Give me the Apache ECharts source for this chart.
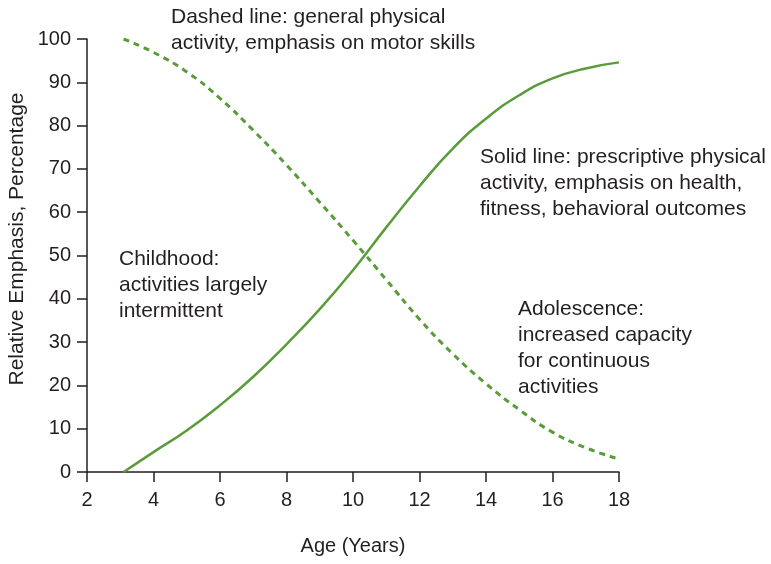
<!DOCTYPE html>
<html>
<head>
<meta charset="utf-8">
<script src="https://cdn.jsdelivr.net/npm/echarts@6/dist/echarts.min.js"></script>
<style>
  html, body { margin: 0; padding: 0; background: #fff; }
  #chart { width: 771px; height: 564px; }
</style>
</head>
<body>
<div id="chart"></div>
<script>
// ages
const ages = [3.1, 4, 5, 6, 7, 8, 9, 10, 11, 12, 13, 14, 15, 16, 17, 18]
// solid line: prescriptive physical activity
const prescriptive = [0, 4.6, 9.6, 15.4, 22, 29.5, 37.6, 46.6, 56.5, 66, 74.7, 81.6, 87, 90.9, 93.2, 94.6]
// dashed line: general physical activity
const general = [100, 96.9, 92.4, 86.3, 78.9, 70.9, 62.3, 53.5, 44.4, 35.3, 27.3, 20.4, 14.4, 9.2, 5.6, 3]

const green = '#5a9b3a'
const ink = '#231f20'
const font = 'Liberation Sans, Arial, sans-serif'

function pairs(xs, ys) {
  return xs.map((x, i) => [x, ys[i]])
}

let myChart = echarts.init(document.getElementById('chart'))

let noteStyle = {
  fill: ink,
  font: '21px ' + font,
  lineHeight: 26
}

let option = {
  animation: false,
  grid: {
    left: 87,
    right: 152,
    top: 39,
    bottom: 92
  },
  xAxis: {
    type: 'value',
    min: 2,
    max: 18,
    interval: 2,
    name: 'Age (Years)',
    nameLocation: 'middle',
    nameGap: 64,
    nameTextStyle: { color: ink, fontSize: 20, fontFamily: font },
    axisLine: { show: true, lineStyle: { color: ink, width: 1.5 } },
    axisTick: { show: true, length: 10, lineStyle: { color: ink, width: 1.5 } },
    axisLabel: { color: ink, fontSize: 20, fontFamily: font, margin: 18 },
    splitLine: { show: false }
  },
  yAxis: {
    type: 'value',
    min: 0,
    max: 100,
    interval: 10,
    axisLine: { show: true, lineStyle: { color: ink, width: 1.5 } },
    axisTick: { show: true, length: 10, lineStyle: { color: ink, width: 1.5 } },
    axisLabel: { color: ink, fontSize: 20, fontFamily: font, margin: 16 },
    splitLine: { show: false }
  },
  series: [
    {
      name: 'prescriptive',
      type: 'line',
      smooth: true,
      symbol: 'none',
      data: pairs(ages, prescriptive),
      lineStyle: { color: green, width: 2.5 }
    },
    {
      name: 'general',
      type: 'line',
      smooth: true,
      symbol: 'none',
      data: pairs(ages, general),
      lineStyle: { color: green, width: 3, type: [6, 5] }
    }
  ],
  graphic: [
    {
      type: 'text',
      x: 17, y: 239,
      rotation: Math.PI / 2,
      style: {
        text: 'Relative Emphasis, Percentage',
        fill: ink,
        font: '21px ' + font,
        align: 'center',
        verticalAlign: 'middle'
      }
    },
    {
      type: 'text', left: 171, top: 4,
      style: Object.assign({ text: 'Dashed line: general physical\nactivity, emphasis on motor skills' }, noteStyle)
    },
    {
      type: 'text', left: 480, top: 144,
      style: Object.assign({ text: 'Solid line: prescriptive physical\nactivity, emphasis on health,\nfitness, behavioral outcomes' }, noteStyle)
    },
    {
      type: 'text', left: 119, top: 246,
      style: Object.assign({ text: 'Childhood:\nactivities largely\nintermittent' }, noteStyle)
    },
    {
      type: 'text', left: 518, top: 296,
      style: Object.assign({ text: 'Adolescence:\nincreased capacity\nfor continuous\nactivities' }, noteStyle)
    }
  ]
}

myChart.setOption(option)
</script>
</body>
</html>
